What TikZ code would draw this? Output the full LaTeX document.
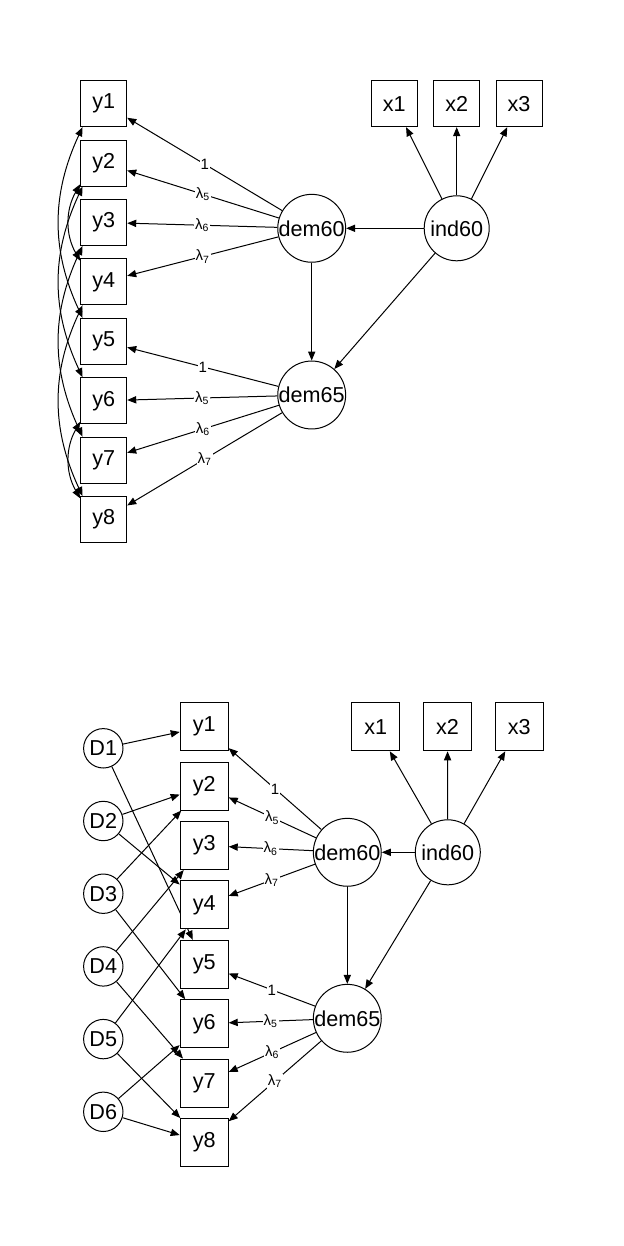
\documentclass[tikz,border=0pt]{standalone}
\usepackage{fontspec}
\setmainfont{Liberation Sans}
\usetikzlibrary{arrows.meta,backgrounds}

\tikzset{
  obs/.style={draw, fill=white, rectangle, minimum size=23pt, inner sep=0pt, line width=0.5pt, font=\fontsize{10.8}{12}\selectfont},
  obsb/.style={obs, minimum size=24pt},
  lat/.style={draw, fill=white, circle, minimum size=32.5pt, inner sep=0pt, line width=0.5pt, font=\fontsize{10.8}{12}\selectfont},
  res/.style={lat, minimum size=19.7pt},
  reg/.style={-{Triangle[length=4.5pt,width=3.6pt]}, line width=0.5pt},
  cov/.style={{Triangle[length=4.5pt,width=3.6pt]}-{Triangle[length=4.5pt,width=3.6pt]}, line width=0.5pt},
  loadlab/.style={fill=white, inner sep=0.4pt, font=\fontsize{7.5}{8}\selectfont},
}

\begin{document}
\begin{tikzpicture}[x=0.5pt,y=-0.5pt]
\useasboundingbox (0,0) rectangle (623,1246);

% upper model: residual covariances as curved arrows
\foreach \i in {1,...,8}
  \node[obs] (ya\i) at (103.7,{103.7+(\i-1)*59.4}) {y\i};
\foreach \i/\xx in {1/394.3,2/456.7,3/519}
  \node[obs] (xa\i) at (\xx,103.7) {x\i};
\node[lat] (dem60a) at (311.7,228.3) {dem60};
\node[lat] (dem65a) at (311.7,395) {dem65};
\node[lat] (ind60a) at (456.7,228.3) {ind60};

\begin{scope}[on background layer]
\foreach \i in {1,2,3}
  \draw[reg] (ind60a) -- (xa\i);
\draw[reg] (ind60a) -- (dem60a);
\draw[reg] (ind60a) -- (dem65a);
\draw[reg] (dem60a) -- (dem65a);
\foreach \i/\l in {1/1,2/λ\textsubscript{5},3/λ\textsubscript{6},4/λ\textsubscript{7}}
  \draw[reg] (dem60a) -- node[loadlab]{\l} (ya\i);
\foreach \i/\l in {5/1,6/λ\textsubscript{5},7/λ\textsubscript{6},8/λ\textsubscript{7}}
  \draw[reg] (dem65a) -- node[loadlab]{\l} (ya\i);
\end{scope}

\foreach \p/\q in {1/5,2/6,3/7,4/8}
  \draw[cov] (ya\p.228) to[out=245,in=115] (ya\q.132);
\foreach \p/\q in {2/4,6/8}
  \draw[cov] (ya\p.222) to[out=240,in=120] (ya\q.138);

% lower model: residual covariances as disturbance terms
\foreach \i in {1,...,8}
  \node[obsb] (yb\i) at (204.2,{726.7+(\i-1)*59.4}) {y\i};
\foreach \j in {1,...,6}
  \node[res] (D\j) at (103.3,{748.3+(\j-1)*72.7}) {D\j};
\foreach \i/\xx in {1/375.8,2/447.5,3/519.2}
  \node[obsb] (xb\i) at (\xx,726.8) {x\i};
\node[lat] (dem60b) at (347.3,852.3) {dem60};
\node[lat] (dem65b) at (347.3,1018.3) {dem65};
\node[lat] (ind60b) at (447.8,852.3) {ind60};

\begin{scope}[on background layer]
\foreach \i in {1,2,3}
  \draw[reg] (ind60b) -- (xb\i);
\draw[reg] (ind60b) -- (dem60b);
\draw[reg] (ind60b) -- (dem65b);
\draw[reg] (dem60b) -- (dem65b);
\foreach \i/\l in {1/1,2/λ\textsubscript{5},3/λ\textsubscript{6},4/λ\textsubscript{7}}
  \draw[reg] (dem60b) -- node[loadlab]{\l} (yb\i);
\foreach \i/\l in {5/1,6/λ\textsubscript{5},7/λ\textsubscript{6},8/λ\textsubscript{7}}
  \draw[reg] (dem65b) -- node[loadlab]{\l} (yb\i);
\foreach \j/\p/\q in {1/1/5,2/2/4,3/2/6,4/3/7,5/4/8,6/6/8} {
  \draw[reg] (D\j) -- (yb\p);
  \draw[reg] (D\j) -- (yb\q);
}
\end{scope}
\end{tikzpicture}
\end{document}
